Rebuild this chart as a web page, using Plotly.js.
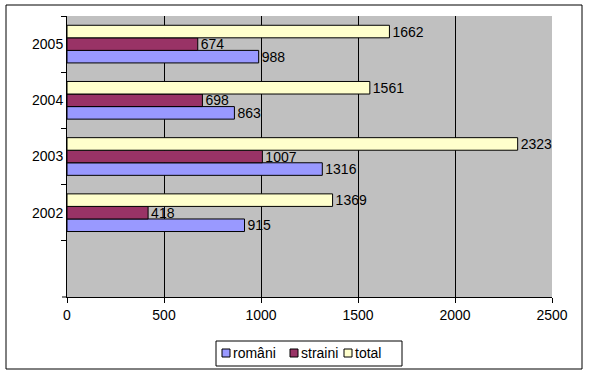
<!DOCTYPE html>
<html>
<head>
<meta charset="utf-8">
<script src="https://cdn.plot.ly/plotly-3.0.1.min.js"></script>
<style>
html,body{margin:0;padding:0;background:#fff;}
#chart{width:590px;height:375px;}
</style>
</head>
<body>
<div id="chart"></div>
<script>
var years = ['2002', '2003', '2004', '2005'];
var romani = [915, 1316, 863, 988];
var straini = [418, 1007, 698, 674];
var total = [1369, 2323, 1561, 1662];
var seriesNames = ['români', 'straini', 'total'];
var xTicks = [0, 500, 1000, 1500, 2000, 2500];

var colors = ['#9999FF', '#993366', '#FFFFCC'];
var font = {family: 'Liberation Sans, Arial, sans-serif', size: 14, color: '#000'};

// plot area in pixels
var L = 67, R = 552, T = 16, B = 297;
function px(x) { return (x - L) / (R - L); }
function py(y) { return (B - y) / (B - T); }

function mk(vals, i) {
  return {
    type: 'bar', orientation: 'h',
    y: years, x: vals, name: seriesNames[i],
    marker: {color: colors[i], line: {color: '#000', width: 1}},
    text: vals.map(String), textposition: 'outside', constraintext: 'none',
    cliponaxis: false, showlegend: false,
    textfont: font, hoverinfo: 'none'
  };
}
var data = [mk(romani, 0), mk(straini, 1), mk(total, 2)];

var shapes = [
  {type: 'rect', xref: 'paper', yref: 'paper',
   x0: px(6), x1: px(582), y0: py(369), y1: py(5),
   line: {color: '#000', width: 1}, fillcolor: 'rgba(0,0,0,0)', layer: 'below'},
  {type: 'line', xref: 'paper', yref: 'paper',
   x0: px(62), x1: px(67), y0: 0, y1: 0,
   line: {color: '#000', width: 1}, layer: 'above'},
  {type: 'rect', xref: 'paper', yref: 'paper',
   x0: px(216), x1: px(402), y0: py(366), y1: py(341),
   line: {color: '#000', width: 1}, fillcolor: '#fff', layer: 'above'}
];
var annotations = [];
var boxX = [222, 290, 344];
for (var i = 0; i < 3; i++) {
  shapes.push({type: 'rect', xref: 'paper', yref: 'paper',
    x0: px(boxX[i]), x1: px(boxX[i] + 8), y0: py(357), y1: py(349),
    line: {color: '#000', width: 1}, fillcolor: colors[i], layer: 'above'});
  annotations.push({xref: 'paper', yref: 'paper', x: px(boxX[i] + 10), y: py(353),
    xanchor: 'left', yanchor: 'middle', text: seriesNames[i], showarrow: false,
    font: font, borderpad: 0});
}

var layout = {
  width: 590, height: 375,
  margin: {l: L, r: 590 - R, t: T, b: 375 - B, autoexpand: false},
  paper_bgcolor: '#fff', plot_bgcolor: '#C0C0C0',
  font: font,
  barmode: 'group', bargap: 0.33, bargroupgap: 0,
  showlegend: false,
  xaxis: {
    range: [0, 2500], tickvals: xTicks, ticktext: xTicks.map(String),
    showgrid: true, gridcolor: '#000', gridwidth: 1,
    showline: true, linecolor: '#000', linewidth: 1,
    ticks: 'outside', ticklen: 5, tickcolor: '#000',
    zeroline: false, tickfont: font, fixedrange: true
  },
  yaxis: {
    type: 'category', categoryorder: 'array', categoryarray: years,
    range: [-1.5, 3.5], tickson: 'boundaries',
    showgrid: false, showline: true, linecolor: '#000', linewidth: 1,
    ticks: 'outside', ticklen: 5, tickcolor: '#000',
    tickfont: font, fixedrange: true
  },
  shapes: shapes,
  annotations: annotations
};

Plotly.newPlot('chart', data, layout, {displayModeBar: false, staticPlot: true});
</script>
</body>
</html>
